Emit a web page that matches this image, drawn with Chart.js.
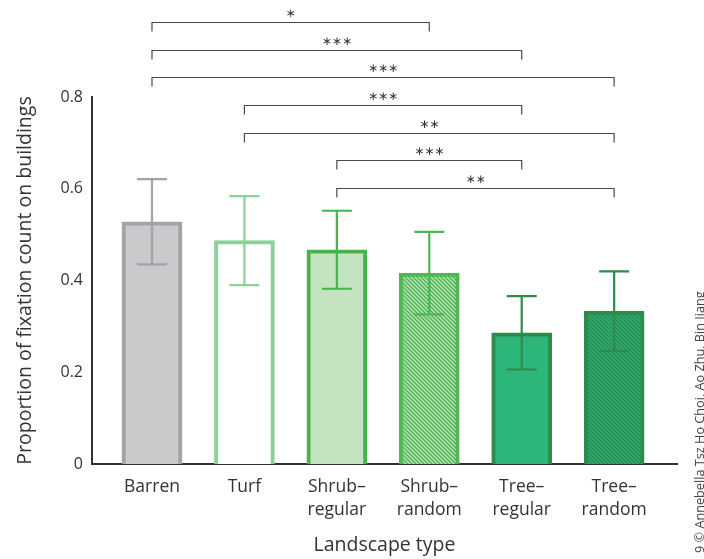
<!DOCTYPE html>
<html>
<head>
<meta charset="utf-8">
<script src="https://cdn.jsdelivr.net/npm/chart.js@4/dist/chart.umd.min.js"></script>
<style>
  html, body { margin: 0; padding: 0; background: #fff; }
  #wrap { width: 704px; height: 559px; position: relative; }
</style>
</head>
<body>
<div id="wrap"><canvas id="chart"></canvas></div>
<script>
const categories = [['Barren'], ['Turf'], ['Shrub–', 'regular'], ['Shrub–', 'random'], ['Tree–', 'regular'], ['Tree–', 'random']];
const means = [0.528, 0.487, 0.467, 0.416, 0.286, 0.333];
const errors = [0.093, 0.097, 0.085, 0.090, 0.080, 0.087];
const yTicks = [0, 0.2, 0.4, 0.6, 0.8];

// pairwise comparisons: [from, to, stars]
const comparisons = [[0, 3, '*'], [0, 4, '***'], [0, 5, '***'], [1, 4, '***'], [1, 5, '**'], [2, 4, '***'], [2, 5, '**']];
const bracketLevels = [0.963, 0.903, 0.843, 0.782, 0.722, 0.662, 0.602];

const credit = '9 © Annebella Tsz Ho Choi, Ao Zhu, Bin Jiang';

function hatch(bg, stripe) {
  const c = document.createElement('canvas');
  const s = 4;
  c.width = s; c.height = s;
  const g = c.getContext('2d');
  g.fillStyle = bg;
  g.fillRect(0, 0, s, s);
  g.strokeStyle = stripe;
  g.lineWidth = 1.4;
  g.beginPath();
  g.moveTo(-1, -1); g.lineTo(s + 1, s + 1);
  g.moveTo(s - 1, -1); g.lineTo(s + 1, 1);
  g.moveTo(-1, s - 1); g.lineTo(1, s + 1);
  g.stroke();
  return g.createPattern(c, 'repeat');
}

const fills = ['#cacacc', '#ffffff', '#c3e3c1', hatch('#bfe2bd', '#48b64e'), '#2db67a', hatch('#2fb079', '#2a8a50')];
const borders = ['#a2a2a8', '#8dd09c', '#45b54b', '#4bb852', '#2f8b4a', '#2f8b4a'];

const errorBars = {
  id: 'errorBars',
  afterDatasetsDraw(chart) {
    const { ctx, scales: { x, y } } = chart;
    ctx.save();
    ctx.lineWidth = 2.2;
    means.forEach((m, i) => {
      const cx = x.getPixelForValue(i);
      const top = y.getPixelForValue(m + errors[i]);
      const bot = y.getPixelForValue(m - errors[i]);
      ctx.strokeStyle = borders[i];
      ctx.beginPath();
      ctx.moveTo(cx, top); ctx.lineTo(cx, bot);
      ctx.moveTo(cx - 15, top); ctx.lineTo(cx + 15, top);
      ctx.moveTo(cx - 15, bot); ctx.lineTo(cx + 15, bot);
      ctx.stroke();
    });
    ctx.restore();
  }
};

const brackets = {
  id: 'brackets',
  afterDraw(chart) {
    const { ctx, scales: { x, y } } = chart;
    ctx.save();
    ctx.strokeStyle = '#4a4a4a';
    ctx.lineWidth = 1.2;
    ctx.fillStyle = '#333';
    ctx.font = '12px "DejaVu Sans"';
    ctx.textAlign = 'center';
    ctx.textBaseline = 'middle';
    comparisons.forEach(([a, b, stars], k) => {
      const x1 = x.getPixelForValue(a);
      const x2 = x.getPixelForValue(b);
      const yy = Math.round(y.getPixelForValue(bracketLevels[k])) + 0.5;
      ctx.beginPath();
      ctx.moveTo(x1, yy + 9); ctx.lineTo(x1, yy);
      ctx.lineTo(x2, yy); ctx.lineTo(x2, yy + 9);
      ctx.stroke();
      ctx.fillText(stars.replace(/\*/g, '∗'), (x1 + x2) / 2, yy - 9);
    });

    // credit line along the right edge
    ctx.translate(700, 553);
    ctx.rotate(-Math.PI / 2);
    ctx.font = '12.7px "Open Sans"';
    ctx.fillStyle = '#444';
    ctx.textAlign = 'left';
    ctx.textBaseline = 'middle';
    ctx.fillText(credit, 0, 0);
    ctx.restore();
  }
};

new Chart(document.getElementById('chart'), {
  type: 'bar',
  data: {
    datasets: [{
      data: means.map((v, i) => ({ x: i, y: v })),
      backgroundColor: fills,
      borderColor: borders,
      borderWidth: 4,
      borderSkipped: 'start',
      barThickness: 60
    }]
  },
  options: {
    responsive: true,
    maintainAspectRatio: false,
    animation: false,
    layout: { padding: { top: 97, right: 27, left: 0, bottom: 0 } },
    plugins: { legend: { display: false }, tooltip: { enabled: false } },
    scales: {
      x: {
        type: 'linear',
        offset: false,
        min: -0.649,
        max: 5.68,
        afterBuildTicks: (scale) => { scale.ticks = categories.map((_, i) => ({ value: i })); },
        afterFit: (scale) => { scale.height = 95; },
        grid: { display: false, drawTicks: false, offset: false },
        border: { display: true, color: '#333', width: 2 },
        ticks: {
          autoSkip: false,
          maxRotation: 0,
          padding: 12,
          color: '#333',
          font: { family: 'Open Sans', size: 17.5, lineHeight: 1.3 },
          callback: (v) => categories[v]
        },
        title: {
          display: true,
          text: 'Landscape type',
          color: '#333',
          font: { family: 'Open Sans', size: 19.5 },
          padding: { top: 0, bottom: 2 }
        }
      },
      y: {
        min: 0,
        max: 0.8,
        afterBuildTicks: (scale) => { scale.ticks = yTicks.map((v) => ({ value: v })); },
        afterFit: (scale) => { scale.width = 92; },
        grid: { display: false, drawTicks: false },
        border: { display: true, color: '#333', width: 2 },
        ticks: {
          padding: 9,
          color: '#333',
          font: { family: 'Open Sans', size: 16 },
          callback: (v) => (v === 0 ? '0' : v.toFixed(1))
        },
        title: {
          display: true,
          text: 'Proportion of fixation count on buildings',
          color: '#333',
          font: { family: 'Open Sans', size: 19.5 },
          padding: { top: 14, bottom: 0 }
        }
      }
    }
  },
  plugins: [errorBars, brackets]
});
</script>
</body>
</html>
